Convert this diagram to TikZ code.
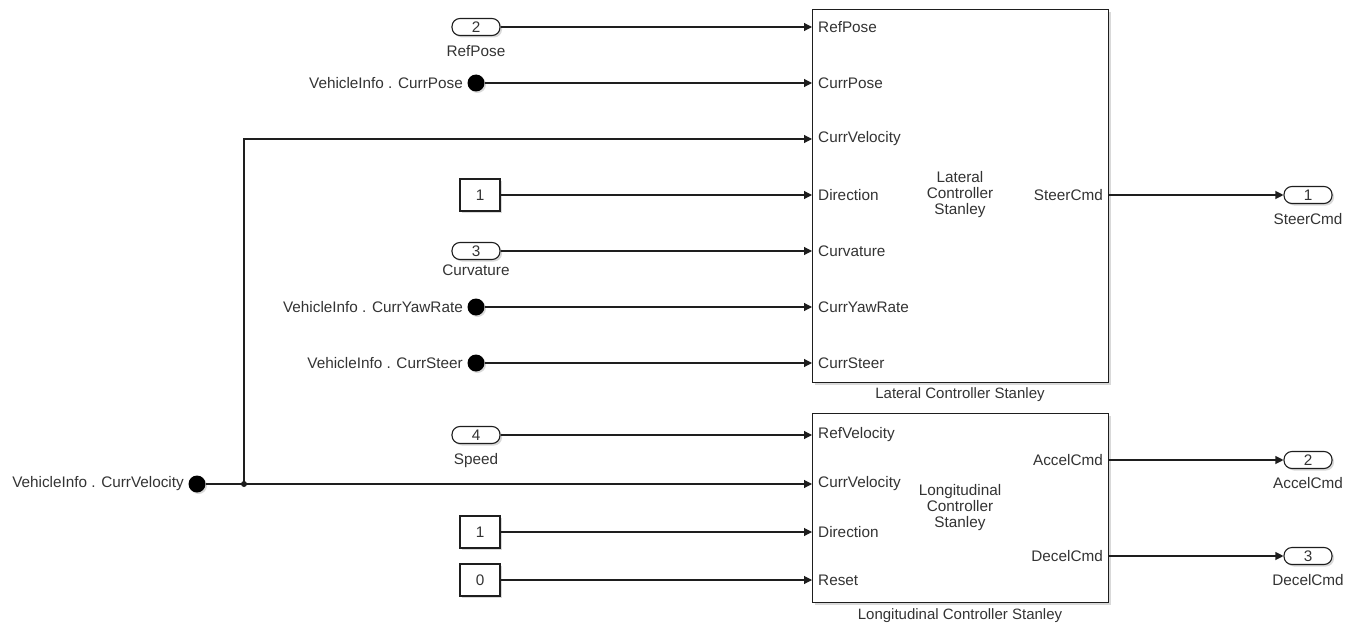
\documentclass[tikz,border=0pt]{standalone}
\usepackage{fontspec}
\setmainfont{Liberation Sans}
\usetikzlibrary{arrows.meta,shadows}
\definecolor{txt}{HTML}{333333}
\definecolor{ln}{HTML}{1E1E1E}
\begin{document}
\begin{tikzpicture}[x=1pt,y=-1pt,
  font=\fontsize{15.3}{16}\selectfont, text=txt,
  wire/.style={draw=ln, line width=1.1pt, -{Triangle[length=8pt,width=8pt]}},
  plainwire/.style={draw=ln, line width=1.1pt},
  blk/.style={draw=ln, line width=1.1pt, fill=white, drop shadow={shadow xshift=2pt,shadow yshift=-2pt,opacity=0.3}},
  port/.style={blk, rounded corners=8pt, minimum width=48pt, minimum height=17pt, inner sep=0pt},
  constblk/.style={blk, minimum width=40pt, minimum height=32pt, inner sep=0pt},
  gotodot/.style={circle, fill=black, minimum size=17pt, inner sep=0pt, drop shadow={shadow xshift=1.5pt,shadow yshift=-1.5pt,opacity=0.3}},
  lbl/.style={inner sep=0pt},
  caption/.style={inner sep=0pt, font=\fontsize{15}{16}\selectfont}
]
\useasboundingbox (0,0) rectangle (1357,623);

% ---------- Lateral controller ----------
\node[blk, minimum width=296pt, minimum height=373pt, anchor=north west, inner sep=0pt] (lat) at (812,9) {};
\node[align=center, lbl, font=\fontsize{15.3}{16}\selectfont] (latc) at (960,195) {Lateral\\Controller\\Stanley};
\node[caption] (latcap) at (960,395) {Lateral Controller Stanley};

\foreach \n/\t/\y in {lp1/RefPose/27, lp2/CurrPose/83, lp3/CurrVelocity/139, lp4/Direction/195, lp5/Curvature/251, lp6/CurrYawRate/307, lp7/CurrSteer/363}{
  \coordinate (\n) at (812,\y);
  \node[lbl, anchor=west] (\n t) at (818,\y) {\t};
}
\coordinate (lo1) at (1108,195);
\node[lbl, anchor=east] (lo1t) at (1103,195) {SteerCmd};

% ---------- Longitudinal controller ----------
\node[blk, minimum width=296pt, minimum height=189pt, anchor=north west, inner sep=0pt] (lon) at (812,413) {};
\node[align=center, lbl, font=\fontsize{15.3}{16}\selectfont] (lonc) at (960,508) {Longitudinal\\Controller\\Stanley};
\node[caption] (loncap) at (960,616) {Longitudinal Controller Stanley};

\foreach \n/\t/\y in {gp1/RefVelocity/435, gp2/CurrVelocity/484, gp3/Direction/532, gp4/Reset/580}{
  \coordinate (\n) at (812,\y);
  \node[lbl, anchor=west] (\n t) at (818,\y) {\t};
}
\coordinate (go1) at (1108,460);
\coordinate (go2) at (1108,556);
\node[lbl, anchor=east] (go1t) at (1103,460) {AccelCmd};
\node[lbl, anchor=east] (go2t) at (1103,556) {DecelCmd};

% ---------- Sources ----------
\node[port] (in2) at (476,27) {2};
\node[lbl] (in2t) at (476,51) {RefPose};
\node[gotodot] (cp) at (476,83) {};
\node[lbl, anchor=east] (cpt) at (463,83) {VehicleInfo . CurrPose};
\node[constblk] (c1) at (480,195) {1};
\node[port] (in3) at (476,251) {3};
\node[lbl] (in3t) at (476,270) {Curvature};
\node[gotodot] (cy) at (476,307) {};
\node[lbl, anchor=east] (cyt) at (463,307) {VehicleInfo . CurrYawRate};
\node[gotodot] (cs) at (476,363) {};
\node[lbl, anchor=east] (cst) at (463,363) {VehicleInfo . CurrSteer};

\node[port] (in4) at (476,435) {4};
\node[lbl] (in4t) at (476,461) {Speed};
\node[gotodot] (cv) at (197,484) {};
\node[lbl, anchor=east] (cvt) at (184,484) {VehicleInfo . CurrVelocity};
\coordinate (jn) at (244,484);
\coordinate (jup) at (244,139);
\node[constblk] (c2) at (480,532) {1};
\node[constblk] (c3) at (480,580) {0};

% ---------- Sinks ----------
\node[port] (out1) at (1308,195) {1};
\node[lbl] (out1t) at (1308,219) {SteerCmd};
\node[port] (out2) at (1308,460) {2};
\node[lbl] (out2t) at (1308,483) {AccelCmd};
\node[port] (out3) at (1308,556) {3};
\node[lbl] (out3t) at (1308,580) {DecelCmd};

% ---------- Wires ----------
\draw[wire] (in2.east) -- (lp1);
\draw[wire] (cp.east) -- (lp2);
\draw[wire] (c1.east) -- (lp4);
\draw[wire] (in3.east) -- (lp5);
\draw[wire] (cy.east) -- (lp6);
\draw[wire] (cs.east) -- (lp7);

\draw[wire] (in4.east) -- (gp1);
\draw[wire] (cv.east) -- (gp2);
\draw[wire] (jn) -- (jup) -- (lp3);
\fill[ln] (jn) circle (3pt);
\draw[wire] (c2.east) -- (gp3);
\draw[wire] (c3.east) -- (gp4);

\draw[wire] (lo1) -- (out1.west);
\draw[wire] (go1) -- (out2.west);
\draw[wire] (go2) -- (out3.west);
\end{tikzpicture}
\end{document}
